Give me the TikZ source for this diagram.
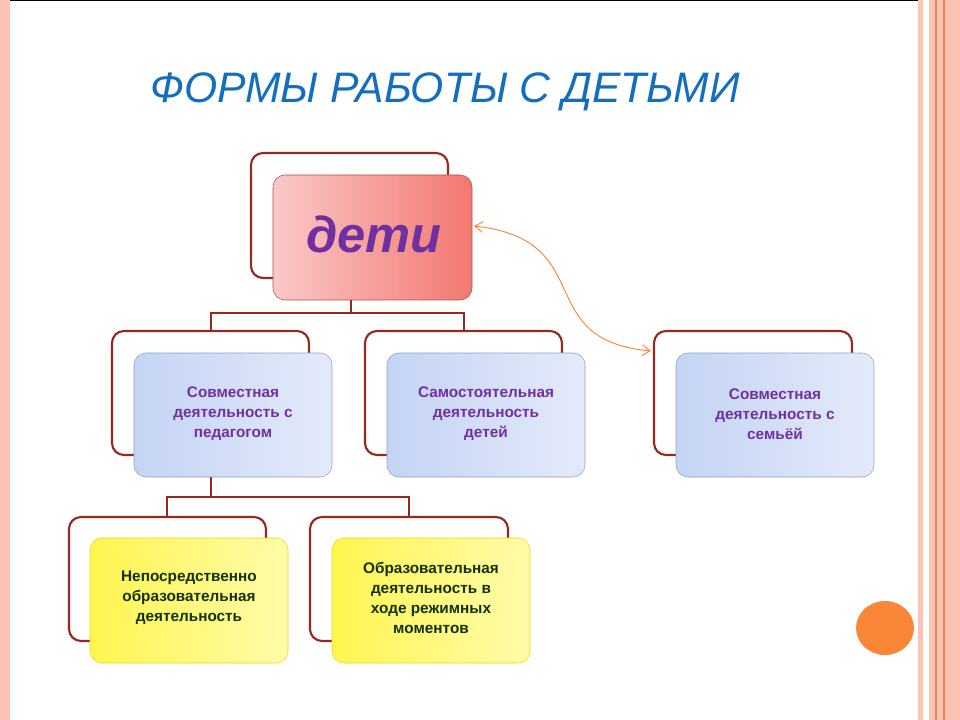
\documentclass[tikz,border=0pt]{standalone}
\usepackage{fontspec}
\setmainfont{Liberation Sans}
\usetikzlibrary{arrows.meta}
\definecolor{brd}{RGB}{150,40,30}
\definecolor{stripe}{RGB}{251,196,178}
\definecolor{stripeline}{RGB}{235,130,90}
\definecolor{ttl}{RGB}{20,110,190}
\definecolor{purp}{RGB}{112,48,160}
\definecolor{grn}{RGB}{20,50,10}
\definecolor{orng}{RGB}{250,135,55}
\definecolor{bl1}{RGB}{196,212,244}
\definecolor{bl2}{RGB}{228,234,250}
\definecolor{bld}{RGB}{140,160,200}
\definecolor{rd1}{RGB}{250,200,200}
\definecolor{rd2}{RGB}{242,120,112}
\definecolor{ye1}{RGB}{255,245,80}
\definecolor{ye2}{RGB}{255,252,170}
\tikzset{
 back/.style={draw=brd,line width=1.6pt,fill=white,rounded corners=9pt},
 conn/.style={draw=brd,line width=1.6pt},
 btxt/.style={text=purp,font=\bfseries\fontsize{11.5}{15}\selectfont,align=center},
 ytxt/.style={text=grn,font=\bfseries\fontsize{11.5}{15}\selectfont,align=center}
}
\begin{document}
\begin{tikzpicture}[x=0.75pt,y=-0.75pt]
\useasboundingbox (0,0) rectangle (960,720);
\fill[white] (0,0) rectangle (960,720);
\fill[stripe] (0,0) rectangle (10,720);
\draw[black,line width=1pt] (10,0.5) -- (918,0.5);
\fill[stripe] (918,0) rectangle (923,720);
\fill[stripe] (929,0) rectangle (960,720);
\draw[stripeline,line width=0.8pt] (936,0) -- (936,720) (944,0) -- (944,720);
\node[text=ttl,font=\itshape\fontsize{32}{36}\selectfont] (title) at (445,92) {ФОРМЫ РАБОТЫ С ДЕТЬМИ};
% top
\draw[back] (251,153) rectangle (448,278);
\shade[left color=rd1,right color=rd2,rounded corners=9pt,draw=brd!80] (273,175) rectangle (472,300);
\node (deti) at (372.5,237.5) [minimum width=199*0.75pt,minimum height=125*0.75pt] {};
\node[text=purp,font=\bfseries\itshape\fontsize{38}{40}\selectfont] at (374,234) {дети};
% row 2 backs
\draw[back] (112,331) rectangle (309,455);
\draw[back] (365,331) rectangle (562,455);
\draw[back] (654,331) rectangle (852,455);
\foreach \x in {134,387,676}{
 \shade[left color=bl1,right color=bl2,rounded corners=9pt,draw=bld] (\x,353) rectangle ++(198,124);
}
\node (a) at (233,415) [minimum width=198*0.75pt,minimum height=124*0.75pt] {};
\node (b) at (486,415) [minimum width=198*0.75pt,minimum height=124*0.75pt] {};
\node (c) at (775,415) [minimum width=198*0.75pt,minimum height=124*0.75pt] {};
\node[btxt] at (233,414) {Совместная\\деятельность с\\педагогом};
\node[btxt] at (486,414) {Самостоятельная\\деятельность\\детей};
\node[btxt] at (775,414) {Совместная\\деятельность с\\семьёй};
% row 3
\draw[back] (69,517) rectangle (266,641);
\draw[back] (310,517) rectangle (508,641);
\foreach \x in {90,332}{
 \shade[left color=ye1,right color=ye2,rounded corners=9pt,draw=yellow!70!orange] (\x,538) rectangle ++(198,125);
}
\node[ytxt] (d) at (189,598) {Непосредственно\\образовательная\\деятельность};
\node[ytxt] (e) at (431,598) {Образовательная\\деятельность в\\ходе режимных\\моментов};
% connectors
\draw[conn] (351,300) -- (351,313) (211,331) -- (211,313) -- (464,313) -- (464,331);
\draw[conn] (211,477) -- (211,497) (167,517) -- (167,497) -- (409,497) -- (409,517);
% curved arrow
\coordinate (p1) at (474,226);
\coordinate (p2) at (651,351);
\draw[orng,line width=0.7pt,{Straight Barb[length=6pt,width=8pt]}-{Straight Barb[length=6pt,width=8pt]}] (p1) .. controls (600,240) and (530,340) .. (p2);
\fill[orng] (885,628) ellipse (29 and 27);
\end{tikzpicture}
\end{document}
